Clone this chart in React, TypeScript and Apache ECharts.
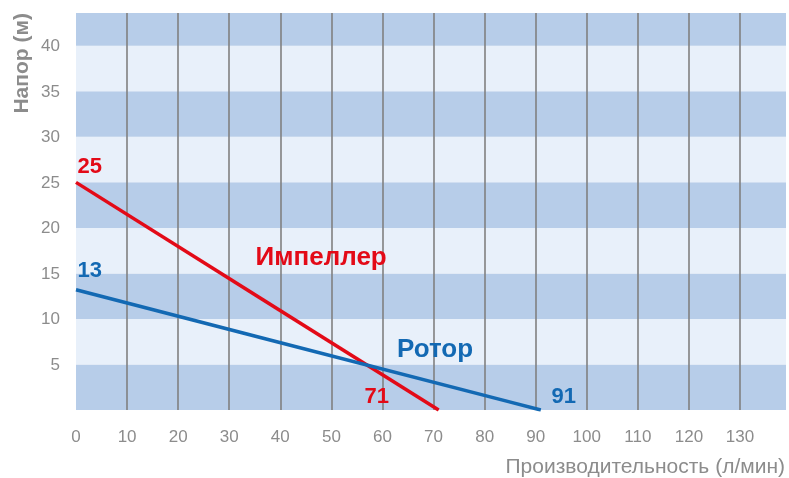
import React, { useEffect, useRef } from "react";
import * as echarts from "echarts";

const impellerPoints: [number, number][] = [[0, 25], [71, 0]];
const rotorPoints: [number, number][] = [[0, 13.2], [91, 0]];
const impellerNotes: { text: string; at: [number, number] }[] = [
  { text: "25", at: [2.7, 26.8] },
  { text: "71", at: [58.9, 1.6] },
];
const rotorNotes: { text: string; at: [number, number] }[] = [
  { text: "13", at: [2.7, 15.4] },
  { text: "91", at: [95.5, 1.6] },
];
const impellerName = { text: "Импеллер", at: [48, 16.9] as [number, number] };
const rotorName = { text: "Ротор", at: [70.3, 6.8] as [number, number] };

const RED = "#e30a17";
const BLUE = "#1369b3";
const GRAY = "#8c8c8c";
const FONT = "'Liberation Sans', Arial, sans-serif";

function notePoints(notes: { text: string; at: [number, number] }[], color: string, size: number) {
  return notes.map((n) => ({
    coord: n.at,
    symbol: "circle",
    symbolSize: 0,
    label: {
      show: true,
      formatter: n.text,
      position: "inside",
      color,
      fontSize: size,
      fontWeight: "bold",
      fontFamily: FONT,
    },
  }));
}

export default function App() {
  const ref = useRef<HTMLDivElement>(null);
  useEffect(() => {
    if (!ref.current) return;
    const chart = echarts.init(ref.current, null, { renderer: "svg" });
    chart.setOption({
      animation: false,
      grid: { left: 76, right: 0, top: 13, bottom: 68, containLabel: false },
      xAxis: {
        type: "value",
        min: 0,
        max: 139,
        interval: 10,
        name: "Производительность (л/мин)",
        nameLocation: "end",
        nameGap: 0,
        nameTextStyle: {
          color: GRAY,
          fontSize: 21,
          fontFamily: FONT,
          align: "right",
          verticalAlign: "top",
          padding: [45, 1, 0, 0],
        },
        axisLine: { show: false },
        axisTick: { show: false },
        axisLabel: {
          color: GRAY,
          fontSize: 17,
          fontFamily: FONT,
          margin: 18,
          formatter: (v: number) => (v % 10 === 0 && v <= 130 ? String(v) : ""),
        },
        splitLine: {
          show: true,
          showMinLine: false,
          showMaxLine: false,
          lineStyle: { color: "#808080", width: 1.6 },
        },
      },
      yAxis: {
        type: "value",
        min: 0,
        max: 43.6,
        interval: 5,
        name: "Напор (м)",
        nameLocation: "end",
        nameRotate: 90,
        nameGap: 0,
        nameTextStyle: {
          color: GRAY,
          fontSize: 21,
          fontWeight: "bold",
          fontFamily: FONT,
          align: "right",
          verticalAlign: "bottom",
          padding: [0, 0, 45, 0],
        },
        axisLine: { show: false },
        axisTick: { show: false },
        axisLabel: {
          color: GRAY,
          fontSize: 17,
          fontFamily: FONT,
          margin: 16,
          formatter: (v: number) => (v > 0 && v % 5 === 0 ? String(v) : ""),
        },
        splitLine: { show: false },
        splitArea: { show: true, areaStyle: { color: ["#b7cde9", "#e8f0fa"] } },
      },
      series: [
        {
          type: "line",
          data: impellerPoints,
          symbol: "none",
          lineStyle: { color: RED, width: 3.5 },
          markPoint: {
            data: [
              ...notePoints(impellerNotes, RED, 22),
              ...notePoints([impellerName], RED, 26),
            ],
          },
        },
        {
          type: "line",
          data: rotorPoints,
          symbol: "none",
          lineStyle: { color: BLUE, width: 3.5 },
          markPoint: {
            data: [
              ...notePoints(rotorNotes, BLUE, 22),
              ...notePoints([rotorName], BLUE, 26),
            ],
          },
        },
      ],
    });
    return () => chart.dispose();
  }, []);
  return <div ref={ref} style={{ position: "fixed", left: 0, top: 0, width: 789, height: 478 }} />;
}
